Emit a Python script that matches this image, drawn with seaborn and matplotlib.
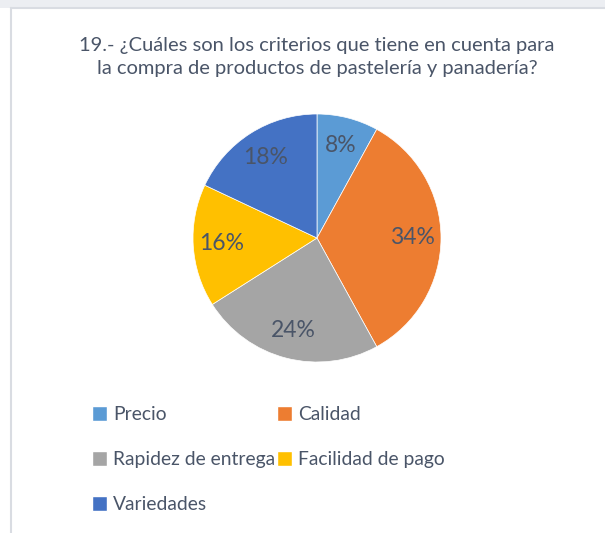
import matplotlib.pyplot as plt
import seaborn as sns
from matplotlib.patches import Rectangle

# data
categories = ["Precio", "Calidad", "Rapidez de entrega", "Facilidad de pago", "Variedades"]
values = [8, 34, 24, 16, 18]
colors = ["#5B9BD5", "#ED7D31", "#A5A5A5", "#FFC000", "#4472C4"]
title = "19.- ¿Cuáles son los criterios que tiene en cuenta para\nla compra de productos de pastelería y panadería?"

sns.set_theme(style="white")
plt.rcParams['font.family'] = ['Lato', 'DejaVu Sans']
text_color = "#4A5568"

W, H = 605, 533
fig = plt.figure(figsize=(W / 100, H / 100), dpi=100)

# chart frame (screenshot edge)
fig.patches.append(Rectangle((0, 1 - 8 / H), 1, 8 / H, transform=fig.transFigure,
                             facecolor="#eceef2", edgecolor="none", zorder=0))
fig.add_artist(plt.Line2D([11 / W, 11 / W], [0, 1 - 8 / H], transform=fig.transFigure,
                          color="#d9dce2", lw=1.5))
fig.add_artist(plt.Line2D([11 / W, 1], [1 - 8 / H, 1 - 8 / H], transform=fig.transFigure,
                          color="#d9dce2", lw=1.5))

# pie axes
cx, cy, r = 317, 238, 124
ax = fig.add_axes([(cx - r) / W, (H - cy - r) / H, 2 * r / W, 2 * r / H])
wedges, texts, autotexts = ax.pie(values, colors=colors, startangle=90, counterclock=False,
                                  autopct="%1.0f%%", pctdistance=0.77,
                                  wedgeprops=dict(linewidth=0.5, edgecolor="white"),
                                  textprops=dict(color=text_color, fontsize=16.5))
ax.set_xlim(-1, 1)
ax.set_ylim(-1, 1)
ax.set_aspect("equal")

fig.text(cx / W, 1 - 57 / H, title, ha="center", va="center", fontsize=14.5,
         color=text_color, linespacing=1.38)

# legend: column-first ordering so rows read Precio/Calidad, Rapidez/Facilidad, Variedades
order = [0, 2, 4, 1, 3]
handles = [Rectangle((0, 0), 1, 1, facecolor=colors[i]) for i in order]
labels = [categories[i] for i in order]
fig.legend(handles, labels, ncol=2, loc="upper left",
           bbox_to_anchor=(75 / W, 1 - 389 / H), frameon=False,
           fontsize=13.9, labelcolor=text_color, handlelength=0.77, handleheight=0.77,
           handletextpad=0.3, columnspacing=0.1, labelspacing=1.45)

fig.savefig("out.png", dpi=100)
